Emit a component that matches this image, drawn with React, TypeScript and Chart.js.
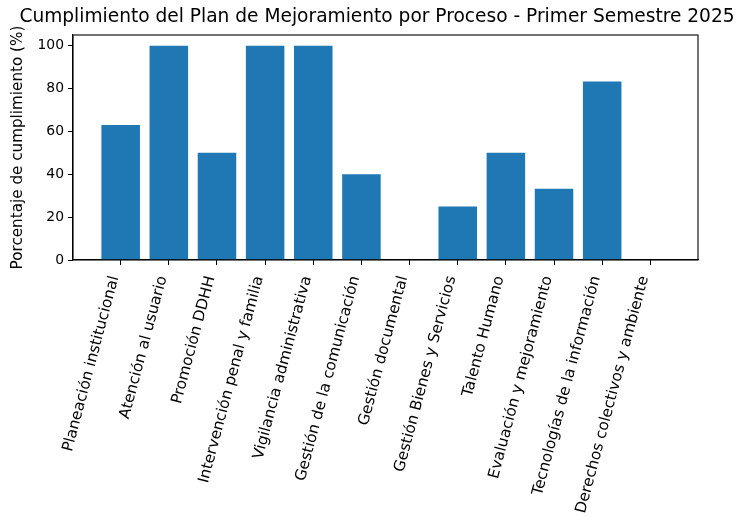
import React, { useEffect, useRef } from "react";
import { Chart, registerables } from "chart.js";

Chart.register(...registerables);

const categories: string[] = [
  "Planeación institucional",
  "Atención al usuario",
  "Promoción DDHH",
  "Intervención penal y familia",
  "Vigilancia administrativa",
  "Gestión de la comunicación",
  "Gestión documental",
  "Gestión Bienes y Servicios",
  "Talento Humano",
  "Evaluación y mejoramiento",
  "Tecnologías de la información",
  "Derechos colectivos y ambiente",
];

const cumplimiento: number[] = [63, 100, 50, 100, 100, 40, 0, 25, 50, 33.3, 83.3, 0];

const yTicks: number[] = [0, 20, 40, 60, 80, 100];

const titleText = "Cumplimiento del Plan de Mejoramiento por Proceso - Primer Semestre 2025";
const yTitle = "Porcentaje de cumplimiento (%)";

const FONT = "'DejaVu Sans', sans-serif";

export default function App() {
  const ref = useRef<HTMLCanvasElement | null>(null);

  useEffect(() => {
    if (!ref.current) return;
    const framePlugin = {
      id: "frame",
      afterDraw(chart: any) {
        const { ctx, chartArea } = chart;
        ctx.save();
        ctx.strokeStyle = "#000";
        ctx.lineWidth = 1.1;
        ctx.strokeRect(chartArea.left, chartArea.top, chartArea.right - chartArea.left, chartArea.bottom - chartArea.top);
        ctx.fillStyle = "#000";
        ctx.font = `18.6px ${FONT}`;
        ctx.textAlign = "center";
        ctx.textBaseline = "middle";
        ctx.fillText(titleText, 377, 17);
        ctx.restore();
      },
    };
    const chart = new Chart(ref.current, {
      type: "bar",
      data: {
        datasets: [
          {
            data: cumplimiento.map((v, i) => ({ x: i, y: v })),
            backgroundColor: "#1f77b4",
            borderWidth: 0,
            barPercentage: 0.8,
            categoryPercentage: 1,
          },
        ],
      },
      options: {
        responsive: false,
        animation: false,
        layout: { padding: { top: 35, right: 45, left: 0, bottom: 0 } },
        plugins: {
          legend: { display: false },
          tooltip: { enabled: false },
          title: { display: false },
        },
        scales: {
          x: {
            type: "linear",
            min: -0.99,
            max: 11.99,
            offset: false,
            afterBuildTicks: (scale: any) => {
              scale.ticks = categories.map((_, i) => ({ value: i }));
            },
            afterFit: (scale: any) => {
              scale.height = 256;
            },
            grid: { display: true, offset: false, drawOnChartArea: false, drawTicks: true, tickLength: 5, color: "#000" },
            border: { display: true, color: "#000", width: 1.1 },
            ticks: {
              autoSkip: false,
              minRotation: 75,
              maxRotation: 75,
              padding: 9,
              labelOffset: -6,
              color: "#000",
              font: { family: FONT, size: 15.3 },
              callback: (v: any) => categories[Math.round(Number(v))] ?? "",
            },
          },
          y: {
            min: 0,
            max: 105,
            afterBuildTicks: (scale: any) => {
              scale.ticks = yTicks.map((v) => ({ value: v }));
            },
            afterFit: (scale: any) => {
              scale.width = 73;
            },
            grid: { display: true, drawOnChartArea: false, drawTicks: true, tickLength: 5, color: "#000" },
            border: { display: true, color: "#000", width: 1.1 },
            ticks: {
              padding: 4,
              color: "#000",
              font: { family: FONT, size: 13.9 },
            },
            title: {
              display: true,
              text: yTitle,
              color: "#000",
              font: { family: FONT, size: 15.2 },
              padding: { top: 9, bottom: 4 },
            },
          },
        },
      },
      plugins: [framePlugin],
    });
    return () => chart.destroy();
  }, []);

  return (
    <div style={{ position: "absolute", left: 0, top: 0, width: 743, height: 516, background: "#fff" }}>
      <canvas ref={ref} width={743} height={516} style={{ width: 743, height: 516 }} />
    </div>
  );
}
